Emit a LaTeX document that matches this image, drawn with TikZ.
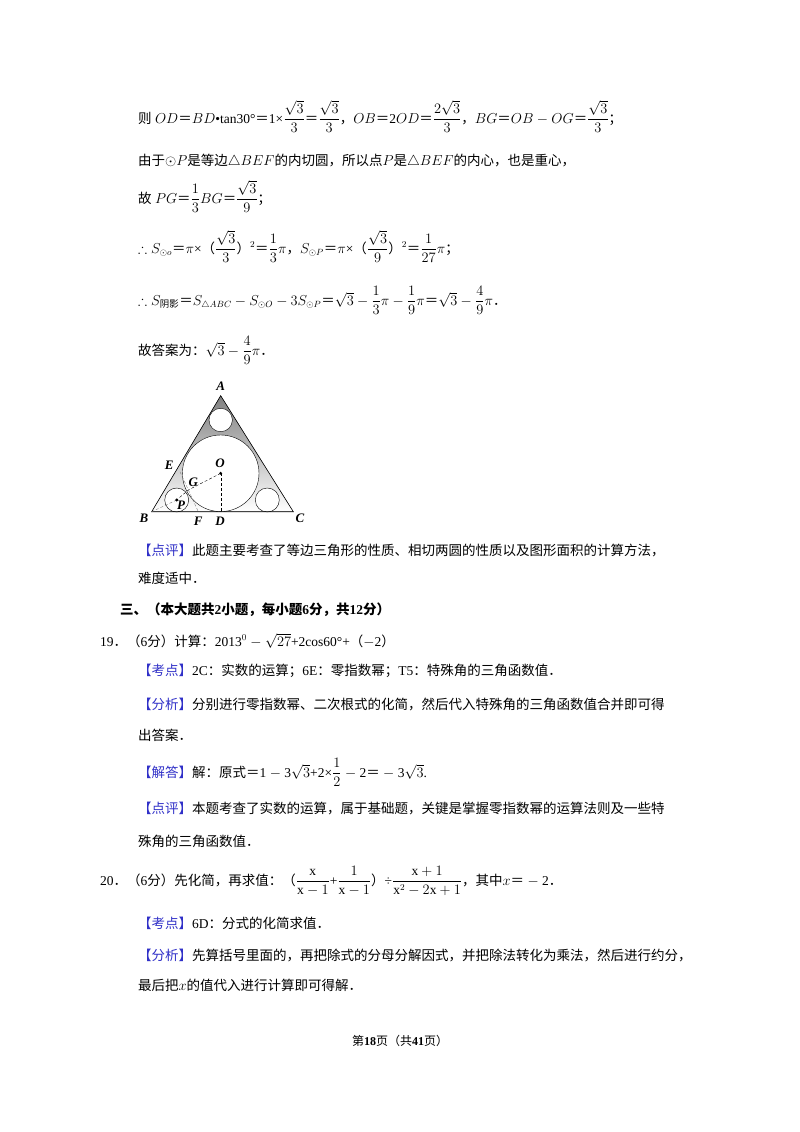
\documentclass[tikz,border=0pt]{standalone}
\usepackage{amsmath,amssymb}
\usepackage{fontspec}
\setmainfont{Liberation Serif}
\setsansfont{Liberation Sans}
\newfontfamily\cjk[NFSSFamily=cjkf]{Noto Sans CJK SC}
\def\latinfam{\rmdefault}
\def\cjkon{\fontfamily{cjkf}\selectfont}
\def\cjkoff{\fontfamily{\latinfam}\selectfont}
\XeTeXinterchartokenstate=1
\newXeTeXintercharclass\CJKcls
\count255="3000
\loop\XeTeXcharclass\count255=\CJKcls\ifnum\count255<"303F\advance\count255 by1\repeat
\count255="4E00
\loop\XeTeXcharclass\count255=\CJKcls\ifnum\count255<"9FFF\advance\count255 by1\repeat
\count255="FF00
\loop\XeTeXcharclass\count255=\CJKcls\ifnum\count255<"FFEF\advance\count255 by1\repeat
\XeTeXinterchartoks 0 \CJKcls={\cjkon}
\XeTeXinterchartoks 4095 \CJKcls={\cjkon}
\XeTeXinterchartoks \CJKcls 0={\cjkoff}
\XeTeXinterchartoks \CJKcls 4095={\cjkoff}
\definecolor{tagblue}{HTML}{3030C8}
\definecolor{shade}{HTML}{C8C8C8}
\newcommand{\tg}[1]{\textcolor{tagblue}{【#1】}}
\begin{document}
\begin{tikzpicture}[x=1pt,y=-1pt,
  txt/.style={anchor=base west,inner sep=0pt,font=\fontsize{13.5}{16}\selectfont},
  lbl/.style={inner sep=0pt,font=\fontsize{13}{14}\selectfont\bfseries\itshape}]
\useasboundingbox[fill=white] (0,0) rectangle (800,1132);

\node[txt] (l1) at (138,123) {则 $OD$＝$BD$•tan30°＝1×$\dfrac{\sqrt{3}}{3}$＝$\dfrac{\sqrt{3}}{3}$，$OB$＝2$OD$＝$\dfrac{2\sqrt{3}}{3}$，$BG$＝$OB$ $-$ $OG$＝$\dfrac{\sqrt{3}}{3}$；};
\node[txt] (l2) at (138,165) {由于$\odot P$是等边$\triangle BEF$的内切圆，所以点$P$是$\triangle BEF$的内心，也是重心，};
\node[txt] (l3) at (138,203) {故 $PG$＝$\dfrac{1}{3}BG$＝$\dfrac{\sqrt{3}}{9}$；};
\node[txt] (l4) at (138,253) {$\therefore S_{\odot o}$＝$\pi$×（$\dfrac{\sqrt{3}}{3}$）$^2$＝$\dfrac{1}{3}\pi$，$S_{\odot P}$＝$\pi$×（$\dfrac{\sqrt{3}}{9}$）$^2$＝$\dfrac{1}{27}\pi$；};
\node[txt] (l5) at (138,305) {$\therefore S_{\text{阴影}}$＝$S_{\triangle ABC}-S_{\odot O}-3S_{\odot P}$＝$\sqrt{3}-\dfrac{1}{3}\pi-\dfrac{1}{9}\pi$＝$\sqrt{3}-\dfrac{4}{9}\pi$．};
\node[txt] (l6) at (138,355) {故答案为：$\sqrt{3}-\dfrac{4}{9}\pi$．};

% figure
\coordinate (A) at (220.7,395.7);
\coordinate (B) at (151.7,511.7);
\coordinate (C) at (293.3,511.7);
\coordinate (O) at (220.7,473.3);
\coordinate (D) at (220.7,511.7);
\coordinate (P) at (176.7,500);
\coordinate (G) at (188.3,490);
\coordinate (E) at (180,471.7);
\coordinate (F) at (198.3,511.7);
\fill[shade] (A) -- (B) -- (C) -- cycle;
\draw[fill=white] (O) circle (38.3);
\draw[fill=white] (220.7,420) circle (11.7);
\draw[fill=white] (267.3,500) circle (12);
\draw[fill=white] (P) circle (12);
\draw[semithick] (A) -- (B) -- (C) -- cycle;
\draw[densely dashed,thin] (O) -- (G) -- (P);
\draw[densely dashed,thin,gray] (P) -- (B);
\draw[densely dashed,thin] (O) -- (D);
\draw[densely dashed,thin,gray] (E) -- (F);
\fill (O) circle (1.6);
\fill (P) circle (1.6);
\node[lbl] (la) at (220.7,386.7) {A};
\node[lbl] (le) at (169.3,465) {E};
\node[lbl] (lo) at (220,463) {O};
\node[lbl] (lg) at (193.3,482) {G};
\node[lbl] (lp) at (181,505) {P};
\node[lbl] (lb) at (144,518) {B};
\node[lbl] (lf) at (198.3,521.7) {F};
\node[lbl] (ld) at (220,521.7) {D};
\node[lbl] (lc) at (300,518) {C};

\node[txt] (l7) at (138,555) {\tg{点评}此题主要考查了等边三角形的性质、相切两圆的性质以及图形面积的计算方法，};
\node[txt] (l8) at (138,583) {难度适中．};
\node[txt,font=\fontsize{13.5}{16}\selectfont\bfseries] (l9) at (120,614) {三、（本大题共2小题，每小题6分，共12分）};
\node[txt] (l10) at (100,646) {19．（6分）计算：2013$^0$ $-$ $\sqrt{27}$+2cos60°+（$-$2）};
\node[txt] (l11) at (138,675) {\tg{考点}2C：实数的运算；6E：零指数幂；T5：特殊角的三角函数值．};
\node[txt] (l12) at (138,709) {\tg{分析}分别进行零指数幂、二次根式的化简，然后代入特殊角的三角函数值合并即可得};
\node[txt] (l13) at (138,740) {出答案．};
\node[txt] (l14) at (138,777) {\tg{解答}解：原式＝1 $-$ 3$\sqrt{3}$+2×$\dfrac{1}{2}$ $-$ 2＝ $-$ 3$\sqrt{3}$.};
\node[txt] (l15) at (138,813) {\tg{点评}本题考查了实数的运算，属于基础题，关键是掌握零指数幂的运算法则及一些特};
\node[txt] (l16) at (138,846) {殊角的三角函数值．};
\node[txt] (l17) at (100,885) {20．（6分）先化简，再求值：（$\dfrac{\mathrm{x}}{\mathrm{x}-1}$+$\dfrac{1}{\mathrm{x}-1}$）÷$\dfrac{\mathrm{x}+1}{\mathrm{x}^2-2\mathrm{x}+1}$，其中$x$＝ $-$ 2．};
\node[txt] (l18) at (138,928) {\tg{考点}6D：分式的化简求值．};
\node[txt] (l19) at (138,960) {\tg{分析}先算括号里面的，再把除式的分母分解因式，并把除法转化为乘法，然后进行约分，};
\node[txt] (l20) at (138,990) {最后把$x$的值代入进行计算即可得解．};
\node[anchor=base,inner sep=0pt,font=\fontsize{12}{14}\selectfont] (ft) at (400,1045) {第{\def\latinfam{\sfdefault}\bfseries 18}页（共{\def\latinfam{\sfdefault}\bfseries 41}页）};
\end{tikzpicture}
\end{document}
